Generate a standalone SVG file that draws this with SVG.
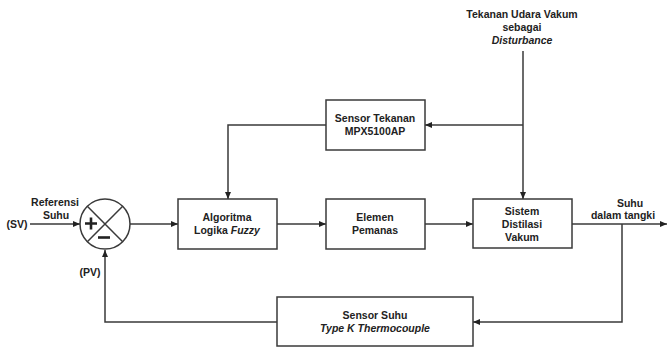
<svg xmlns="http://www.w3.org/2000/svg" width="668" height="349" viewBox="0 0 668 349">
<style>
.b{fill:#fff;stroke:#3a3a3a;stroke-width:1.5}
.l{fill:none;stroke:#3a3a3a;stroke-width:1.5}
text{font-family:"Liberation Sans",Arial,sans-serif;font-weight:bold;font-size:10.5px;fill:#222;text-anchor:middle}
.i{font-style:italic}
</style>
<defs>
<marker id="a" markerWidth="7" markerHeight="6" refX="7" refY="3" orient="auto" markerUnits="userSpaceOnUse">
<path d="M0,0 L7,3 L0,6 Z" fill="#222"/>
</marker>
</defs>
<rect width="668" height="349" fill="#fff"/>
<g id="connectors">
<path class="l" d="M30,224 H80" marker-end="url(#a)"/>
<path class="l" d="M130,224 H178" marker-end="url(#a)"/>
<path class="l" d="M277,224 H326" marker-end="url(#a)"/>
<path class="l" d="M425,224 H473" marker-end="url(#a)"/>
<path class="l" d="M572,224 H667" marker-end="url(#a)"/>
<path class="l" d="M523,51 V199" marker-end="url(#a)"/>
<path class="l" d="M523,125 H425" marker-end="url(#a)"/>
<path class="l" d="M326,125 H228 V199" marker-end="url(#a)"/>
<path class="l" d="M622,224 V322 H473" marker-end="url(#a)"/>
<path class="l" d="M277,322 H105 V250" marker-end="url(#a)"/>
</g>
<g id="sum">
<circle cx="105" cy="224" r="25" class="b"/>
<path class="l" d="M87.3,206.3 L122.7,241.7 M122.7,206.3 L87.3,241.7"/>
<path d="M85,223.5 h12 M91,217.5 v12" stroke="#222" stroke-width="2.6" fill="none"/>
<path d="M98,237.5 h12" stroke="#222" stroke-width="2.6" fill="none"/>
</g>
<g id="labels">
<text x="55" y="206">Referensi</text>
<text x="56" y="219">Suhu</text>
<text x="17" y="228">(SV)</text>
<text x="90" y="276">(PV)</text>
<text x="630" y="207">Suhu</text>
<text x="623" y="219">dalam tangki</text>
<text x="522" y="18">Tekanan Udara Vakum</text>
<text x="522" y="31">sebagai</text>
<text x="522" y="44" class="i">Disturbance</text>
</g>
<g id="algoritma">
<rect x="178" y="199" width="99" height="50" class="b"/>
<text x="227" y="221">Algoritma</text>
<text x="227" y="234">Logika <tspan class="i">Fuzzy</tspan></text>
</g>
<g id="elemen">
<rect x="326" y="199" width="99" height="50" class="b"/>
<text x="375" y="221">Elemen</text>
<text x="375" y="234">Pemanas</text>
</g>
<g id="sistem">
<rect x="473" y="199" width="99" height="49" class="b"/>
<text x="522" y="215">Sistem</text>
<text x="522" y="228">Distilasi</text>
<text x="522" y="241">Vakum</text>
</g>
<g id="sensor-tekanan">
<rect x="326" y="100" width="99" height="50" class="b"/>
<text x="375" y="122">Sensor Tekanan</text>
<text x="375" y="135">MPX5100AP</text>
</g>
<g id="sensor-suhu">
<rect x="277" y="297" width="196" height="49" class="b"/>
<text x="375" y="319">Sensor Suhu</text>
<text x="375" y="332" class="i">Type K Thermocouple</text>
</g>
</svg>
